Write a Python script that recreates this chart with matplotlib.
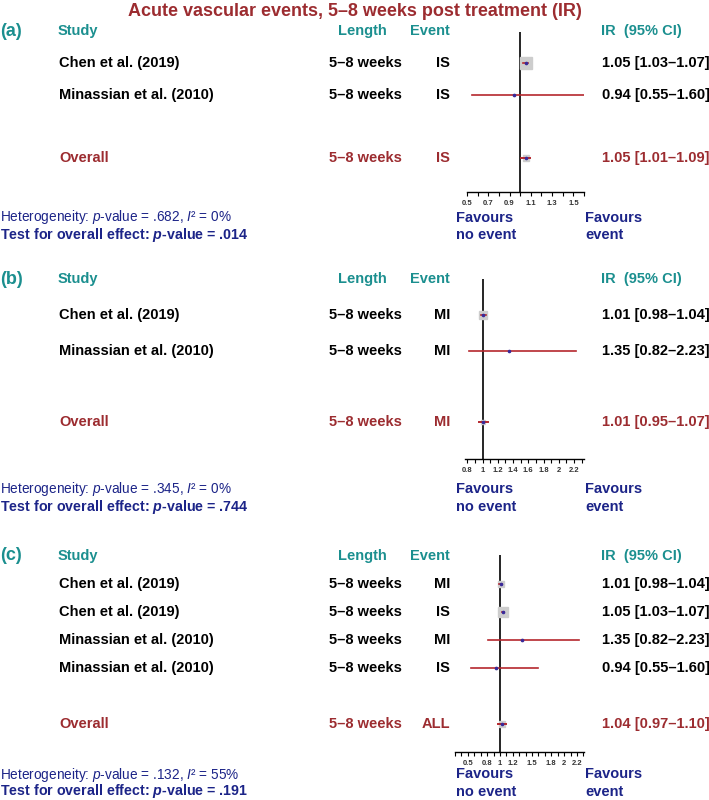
import numpy as np
import matplotlib
matplotlib.use('Agg')
import matplotlib.pyplot as plt
import matplotlib.transforms as mtransforms

plt.rcParams['font.family'] = ['Liberation Sans', 'DejaVu Sans']
plt.rcParams['mathtext.fontset'] = 'custom'
plt.rcParams['mathtext.rm'] = 'Liberation Sans'
plt.rcParams['mathtext.it'] = 'Liberation Sans:italic'
plt.rcParams['mathtext.bf'] = 'Liberation Sans:bold'
plt.rcParams['mathtext.bfit'] = 'Liberation Sans:italic:bold'

TEAL = '#1b8f8f'
DARKRED = '#9c2c30'
NAVY = '#1c2488'
CI_RED = '#b5272d'
BOX = '#cdcdcd'
DOT = '#3a2a9a'

title = "Acute vascular events, 5–8 weeks post treatment (IR)"
length = "5–8 weeks"

# (a) ischaemic stroke
a_studies = ["Chen et al. (2019)", "Minassian et al. (2010)"]
a_events = ["IS", "IS"]
a_ir = [1.05, 0.94]
a_lo = [1.03, 0.55]
a_hi = [1.07, 1.60]
a_weight = [97, 3]
a_overall = [1.05, 1.01, 1.09]
a_overall_event = "IS"
a_het_p, a_i2, a_p = ".682", "0%", ".014"
a_ticks = [0.5, 0.7, 0.9, 1.1, 1.3, 1.5]
a_minor = [0.5, 0.6, 0.7, 0.8, 0.9, 1.0, 1.1, 1.2, 1.3, 1.4, 1.5, 1.6]

# (b) myocardial infarction
b_studies = ["Chen et al. (2019)", "Minassian et al. (2010)"]
b_events = ["MI", "MI"]
b_ir = [1.01, 1.35]
b_lo = [0.98, 0.82]
b_hi = [1.04, 2.23]
b_weight = [98, 2]
b_overall = [1.01, 0.95, 1.07]
b_overall_event = "MI"
b_het_p, b_i2, b_p = ".345", "0%", ".744"
b_ticks = [0.8, 1, 1.2, 1.4, 1.6, 1.8, 2, 2.2]
b_minor = [0.8, 0.9, 1.0, 1.1, 1.2, 1.3, 1.4, 1.5, 1.6, 1.7, 1.8, 1.9, 2.0, 2.1, 2.2, 2.3]

# (c) all events
c_studies = ["Chen et al. (2019)", "Chen et al. (2019)", "Minassian et al. (2010)", "Minassian et al. (2010)"]
c_events = ["MI", "IS", "MI", "IS"]
c_ir = [1.01, 1.05, 1.35, 0.94]
c_lo = [0.98, 1.03, 0.82, 0.55]
c_hi = [1.04, 1.07, 2.23, 1.60]
c_weight = [24, 70, 3, 3]
c_overall = [1.04, 0.97, 1.10]
c_overall_event = "ALL"
c_het_p, c_i2, c_p = ".132", "55%", ".191"
c_ticks = [0.5, 0.8, 1, 1.2, 1.5, 1.8, 2, 2.2]
c_minor = [0.3, 0.4, 0.5, 0.6, 0.7, 0.8, 0.9, 1.0, 1.1, 1.2, 1.3, 1.4, 1.5, 1.6, 1.7, 1.8, 1.9, 2.0, 2.1, 2.2, 2.3]

W, H = 709, 800
fig = plt.figure(figsize=(W / 100, H / 100), dpi=100)


def fx(x):
    return x / W


def fy(y):
    return 1 - y / H


def fmt(v):
    return "%.2f" % v


def tick_text(v):
    return ("%g" % v)


def panel(tag, studies, events, ir, lo, hi, weight, overall, overall_event,
          het_p, i2, p, ticks, minor, lay):
    n = len(studies)
    top, row0, row_over, bottom = lay['top'], lay['row0'], lay['overall'], lay['bottom']
    pitch = (row_over - row0) / (n + 1)
    x0, x1 = lay['xpx']
    ax = fig.add_axes([fx(x0), fy(bottom), (x1 - x0) / W, (bottom - top) / H])
    ax.set_xlim(*lay['xlim'])
    ax.set_ylim((bottom - row0) / pitch, (top - row0) / pitch)
    for s in ['top', 'right', 'left']:
        ax.spines[s].set_visible(False)
    ax.spines['bottom'].set_linewidth(1.0)
    ax.set_yticks([])
    ax.set_xticks(ticks)
    ax.set_xticklabels([tick_text(t) for t in ticks], fontsize=5.5,
                       fontweight='bold', color='#333333')
    ax.set_xticks(minor, minor=True)
    ax.tick_params(axis='x', which='both', direction='out', length=3,
                   width=0.8, pad=2.5)
    ax.axvline(1, color='black', lw=1.2, zorder=1)

    rows = np.arange(n)
    wmax = 100.0
    for r, m, l, h, w in zip(rows, ir, lo, hi, weight):
        side = lay['smax'] * np.sqrt(w / wmax) * 0.72
        ax.plot([m], [r], marker='s', ms=side, color=BOX, mec=BOX, zorder=2)
        ax.plot([l, h], [r, r], color=CI_RED, lw=1.2, zorder=3)
        ax.plot([m], [r], marker='o', ms=1.6, color=DOT, zorder=4)
    ro = n + 1
    ax.plot([overall[0]], [ro], marker='s', ms=lay['smax'] * 0.45 * 0.72,
            color=BOX, mec=BOX, zorder=2)
    ax.plot([overall[1], overall[2]], [ro, ro], color=CI_RED, lw=1.4, zorder=3)
    ax.plot([overall[0]], [ro], marker='o', ms=1.6, color=DOT, zorder=4)

    tr = mtransforms.blended_transform_factory(fig.transFigure, ax.transData)
    kw = dict(transform=tr, va='center', fontweight='bold', clip_on=False)
    fs = 10.5
    ax.text(0.0, -1, tag, fontsize=13, color=TEAL, ha='left', **kw)
    ax.text(fx(58), -1, "Study", fontsize=fs, color=TEAL, ha='left', **kw)
    ax.text(fx(362), -1, "Length", fontsize=fs, color=TEAL, ha='center', **kw)
    ax.text(fx(450), -1, "Event", fontsize=fs, color=TEAL, ha='right', **kw)
    ax.text(fx(601), -1, "IR  (95% CI)", fontsize=fs, color=TEAL, ha='left', **kw)
    for r, s, e, m, l, h in zip(rows, studies, events, ir, lo, hi):
        ax.text(fx(59), r, s, fontsize=fs, color='black', ha='left', **kw)
        ax.text(fx(365), r, length, fontsize=fs, color='black', ha='center', **kw)
        ax.text(fx(450), r, e, fontsize=fs, color='black', ha='right', **kw)
        ax.text(fx(602), r, "%s [%s–%s]" % (fmt(m), fmt(l), fmt(h)),
                fontsize=fs, color='black', ha='left', **kw)
    ax.text(fx(59), ro, "Overall", fontsize=fs, color=DARKRED, ha='left', **kw)
    ax.text(fx(365), ro, length, fontsize=fs, color=DARKRED, ha='center', **kw)
    ax.text(fx(450), ro, overall_event, fontsize=fs, color=DARKRED, ha='right', **kw)
    ax.text(fx(602), ro, "%s [%s–%s]" % (fmt(overall[0]), fmt(overall[1]), fmt(overall[2])),
            fontsize=fs, color=DARKRED, ha='left', **kw)

    y1, y2 = lay['foot'] - 0.5, lay['foot'] + 16.5
    fig.text(0.0, fy(y1), r"Heterogeneity: $\mathit{p}$-value = %s, $\mathit{I}$² = %s" % (het_p, i2),
             fontsize=9.8, color=NAVY, va='center', ha='left')
    fig.text(0.0, fy(y2), r"Test for overall effect: $\mathbfit{p}$-value = %s" % p,
             fontsize=10.3, color=NAVY, va='center', ha='left', fontweight='bold')
    fig.text(fx(456), fy(y1), "Favours", fontsize=fs, color=NAVY, va='center', fontweight='bold')
    fig.text(fx(456), fy(y2), "no event", fontsize=fs, color=NAVY, va='center', fontweight='bold')
    fig.text(fx(585), fy(y1), "Favours", fontsize=fs, color=NAVY, va='center', fontweight='bold')
    fig.text(fx(585), fy(y2), "event", fontsize=fs, color=NAVY, va='center', fontweight='bold')
    return ax


fig.text(0.5, fy(12), title, fontsize=13, fontweight='bold', color=DARKRED,
         ha='center', va='center')

panel("(a)", a_studies, a_events, a_ir, a_lo, a_hi, a_weight, a_overall, a_overall_event,
      a_het_p, a_i2, a_p, a_ticks, a_minor,
      dict(top=32, row0=63, overall=158, bottom=192, xpx=(467, 584), xlim=(0.5, 1.6),
           smax=11.2, foot=218))
panel("(b)", b_studies, b_events, b_ir, b_lo, b_hi, b_weight, b_overall, b_overall_event,
      b_het_p, b_i2, b_p, b_ticks, b_minor,
      dict(top=279, row0=315, overall=422, bottom=459, xpx=(465, 584), xlim=(0.77, 2.33),
           smax=8.1, foot=490))
panel("(c)", c_studies, c_events, c_ir, c_lo, c_hi, c_weight, c_overall, c_overall_event,
      c_het_p, c_i2, c_p, c_ticks, c_minor,
      dict(top=555, row0=584, overall=724, bottom=752, xpx=(455, 584), xlim=(0.3, 2.31),
           smax=13, foot=775))

fig.savefig('out.png', dpi=100)
